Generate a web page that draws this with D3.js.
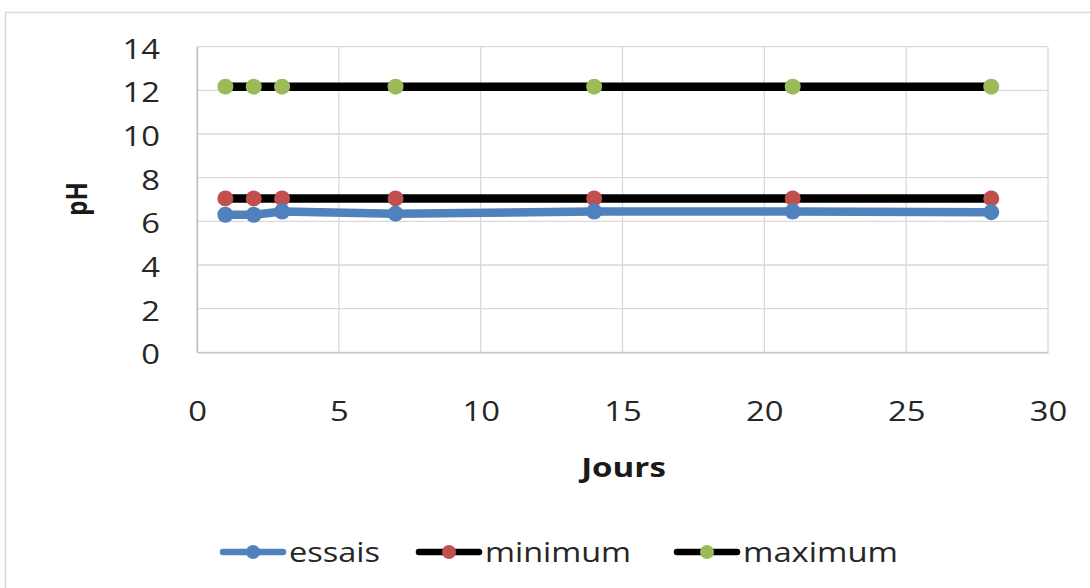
<!DOCTYPE html>
<html>
<head>
<meta charset="utf-8">
<script src="https://cdn.jsdelivr.net/npm/d3@7/dist/d3.min.js"></script>
<style>
  html, body { margin: 0; padding: 0; background: #fff; }
  svg { display: block; font-family: "Open Sans", Lato, sans-serif; }
</style>
</head>
<body>
<svg id="chart" width="1090" height="588"></svg>
<script>
// pH measured over the test period, with the accepted limits
const days = [1, 2, 3, 7, 14, 21, 28];
const essais = [6.3, 6.3, 6.45, 6.35, 6.45, 6.45, 6.42];
const minimum = [7.05, 7.05, 7.05, 7.05, 7.05, 7.05, 7.05];
const maximum = [12.17, 12.17, 12.17, 12.17, 12.17, 12.17, 12.17];
const xTicks = [0, 5, 10, 15, 20, 25, 30];
const yTicks = [0, 2, 4, 6, 8, 10, 12, 14];
const seriesNames = ["essais", "minimum", "maximum"];

const series = [
  { name: seriesNames[0], values: essais, line: "#4f81bd", marker: "#4f81bd" },
  { name: seriesNames[1], values: minimum, line: "#000000", marker: "#c0504d" },
  { name: seriesNames[2], values: maximum, line: "#000000", marker: "#9bbb59" }
];

// text is drawn slightly wide
const SX = 1.17;

const svg = d3.select("#chart");

// outer chart frame
svg.append("rect")
  .attr("x", 5.5).attr("y", 12.5)
  .attr("width", 1100).attr("height", 600)
  .attr("fill", "#fff").attr("stroke", "#d9d9d9").attr("stroke-width", 1.5);

const plot = { left: 197, right: 1048, top: 46.7, bottom: 352.3 };

const x = d3.scaleLinear().domain([0, 30]).range([plot.left, plot.right]);
const y = d3.scaleLinear().domain([0, 14]).range([plot.bottom, plot.top]);

// gridlines
const grid = svg.append("g");
grid.selectAll("line.h").data(yTicks).join("line")
  .attr("x1", plot.left).attr("x2", plot.right)
  .attr("y1", d => y(d)).attr("y2", d => y(d))
  .attr("stroke", "#d9d9d9").attr("stroke-width", 1.3);
grid.selectAll("line.v").data(xTicks).join("line")
  .attr("x1", d => x(d)).attr("x2", d => x(d))
  .attr("y1", plot.top).attr("y2", plot.bottom)
  .attr("stroke", "#d9d9d9").attr("stroke-width", 1.3);

// axes
const yAxis = d3.axisLeft(y).tickValues(yTicks).tickSize(0);
svg.append("g")
  .attr("transform", `translate(${plot.left},0)`)
  .call(yAxis)
  .call(g => g.select(".domain").attr("stroke", "#bfbfbf").attr("stroke-width", 1.3))
  .call(g => g.selectAll("text")
    .attr("x", 0).attr("dy", "0.41em")
    .attr("transform", `translate(-37,0) scale(${SX},1)`)
    .attr("font-size", 28).attr("fill", "#262626")
    .attr("font-family", "'Open Sans', sans-serif"));

const xAxis = d3.axisBottom(x).tickValues(xTicks).tickSize(0);
svg.append("g")
  .attr("transform", `translate(0,${plot.bottom})`)
  .call(xAxis)
  .call(g => g.select(".domain").attr("stroke", "#bfbfbf").attr("stroke-width", 1.3))
  .call(g => g.selectAll("text")
    .attr("y", 0).attr("dy", 0)
    .attr("transform", `translate(0,69) scale(${SX},1)`)
    .attr("font-size", 28).attr("fill", "#262626")
    .attr("font-family", "'Open Sans', sans-serif"));

// axis titles
svg.append("text")
  .attr("transform", `translate(${(plot.left + plot.right) / 2 + 1},477) scale(1.25,1)`)
  .attr("text-anchor", "middle")
  .attr("font-size", 26.5).attr("font-weight", "bold").attr("fill", "#1a1a1a")
  .text("Jours");
svg.append("text")
  .attr("transform", `translate(87,199) rotate(-90) scale(1,${SX})`)
  .attr("text-anchor", "middle")
  .attr("font-size", 24).attr("font-weight", "bold").attr("fill", "#1a1a1a")
  .text("pH");

// series lines and markers
const line = d3.line().x((d, i) => x(days[i])).y(d => y(d));
const drawOrder = [series[1], series[2], series[0]];
drawOrder.forEach(s => {
  const g = svg.append("g");
  g.append("path")
    .attr("d", line(s.values))
    .attr("fill", "none")
    .attr("stroke", s.line)
    .attr("stroke-width", 8.5)
    .attr("stroke-linejoin", "round").attr("stroke-linecap", "round");
  g.selectAll("circle").data(s.values).join("circle")
    .attr("cx", (d, i) => x(days[i])).attr("cy", d => y(d))
    .attr("r", 8).attr("fill", s.marker);
});

// legend
const legendX = [220, 416, 674];
const legendW = [91, 146, 155];
const legend = svg.append("g");
series.forEach((s, i) => {
  const lx = legendX[i], ly = 552;
  legend.append("line")
    .attr("x1", lx + 3).attr("x2", lx + 63).attr("y1", ly).attr("y2", ly)
    .attr("stroke", s.line).attr("stroke-width", 6.5)
    .attr("stroke-linecap", "round");
  legend.append("circle").attr("cx", lx + 33).attr("cy", ly).attr("r", 7).attr("fill", s.marker);
  legend.append("text")
    .attr("x", lx + 69).attr("y", ly + 10)
    .attr("font-size", 28).attr("fill", "#262626")
    .attr("textLength", legendW[i]).attr("lengthAdjust", "spacingAndGlyphs")
    .text(s.name);
});
</script>
</body>
</html>
